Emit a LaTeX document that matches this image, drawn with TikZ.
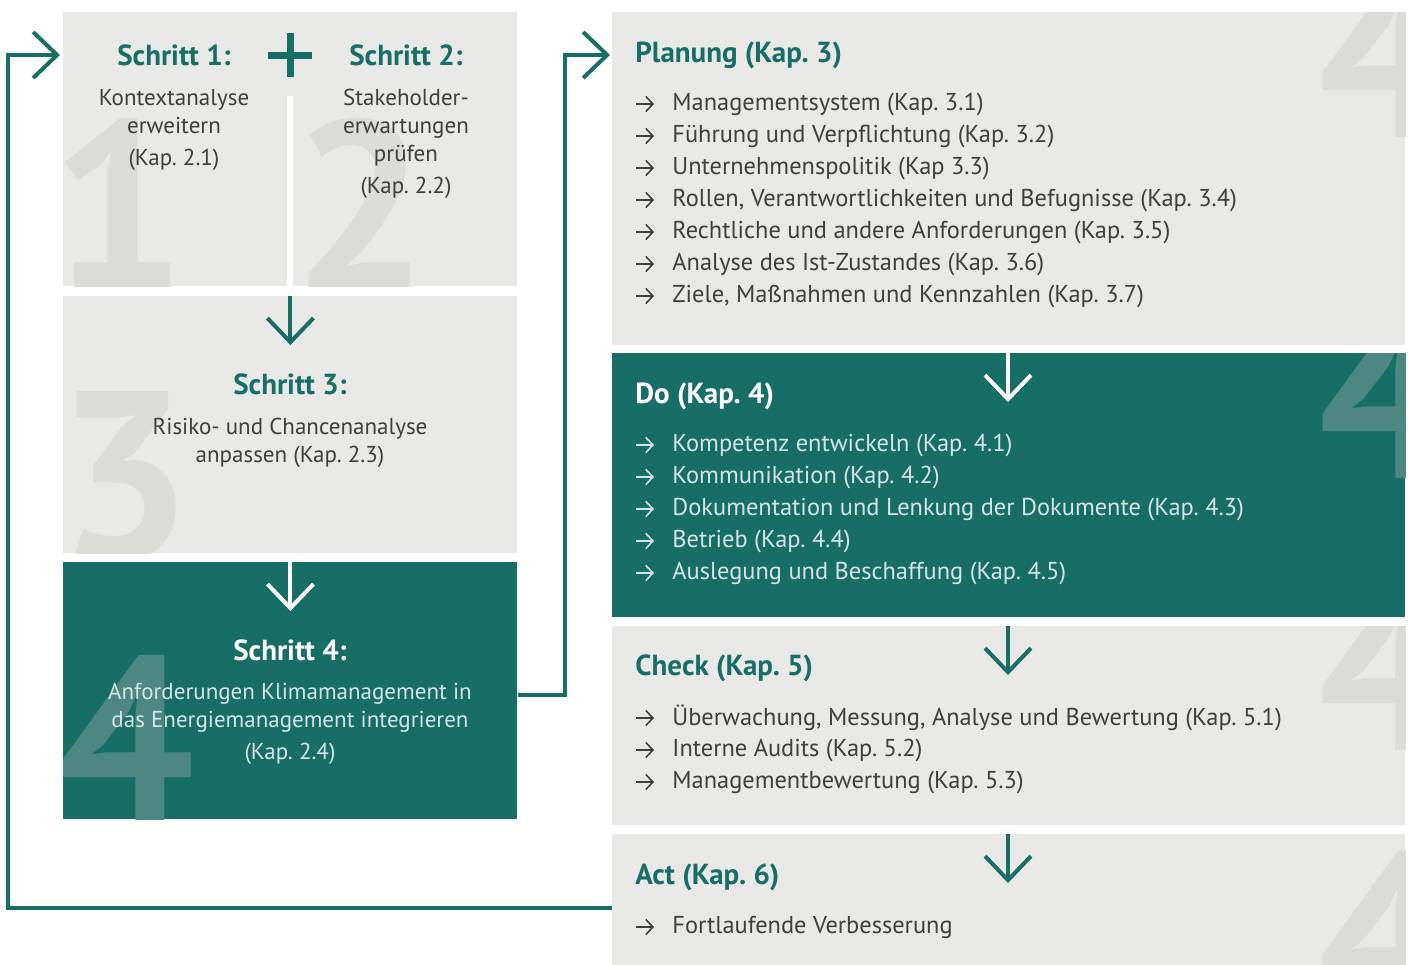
\documentclass[tikz,border=0pt]{standalone}
\usepackage{fontspec}
\setmainfont{PT Sans}
\usetikzlibrary{arrows.meta,calc,positioning}

\definecolor{petrol}{HTML}{176E66}
\definecolor{boxgray}{HTML}{E8E8E6}
\definecolor{wmgray}{HTML}{DBDBD8}
\definecolor{wmteal}{HTML}{4C8781}
\definecolor{bodytext}{HTML}{3E3E3E}
\definecolor{lighttext}{HTML}{D6E5E3}

\begin{document}
\frenchspacing
\begin{tikzpicture}[x=0.5pt,y=-0.5pt,
    panel/.style={anchor=north west, inner sep=0pt, fill=boxgray, minimum width=#1},
    steptitle/.style={font=\fontsize{14.5}{17}\selectfont\bfseries, text=petrol},
    steptext/.style={font=\fontsize{11.5}{14}\selectfont, text=bodytext, align=center},
    ptitle/.style={anchor=west, inner sep=0pt, font=\fontsize{14.5}{17}\selectfont\bfseries, text=petrol},
    item/.style={anchor=west, inner sep=0pt, font=\fontsize{12.2}{14}\selectfont, text=bodytext},
    bullet/.style={-{Straight Barb[length=3.5pt,width=7.5pt]}, line width=0.8pt, bodytext},
    digit/.style={anchor=base west, inner sep=0pt, font=\fontsize{120}{120}\selectfont\bfseries, text=wmgray},
    bigarrow/.style={-{Straight Barb[length=12pt,width=23pt]}, line width=2pt},
    loopline/.style={-{Straight Barb[length=12pt,width=23pt]}, line width=2pt, petrol}]

\useasboundingbox (0,0) rectangle (1410,965);
\fill[white] (0,0) rectangle (1410,965);

% left column
\node[panel=227pt, minimum height=137pt] (s12) at (63,12) {};
\node[panel=227pt, minimum height=128.5pt] (s3) at (63,296) {};
\node[panel=227pt, minimum height=128.5pt, fill=petrol] (s4) at (63,562) {};

% right column
\node[panel=396.5pt, minimum height=166.5pt] (plan) at (612,12) {};
\node[panel=396.5pt, minimum height=132pt, fill=petrol] (do) at (612,353) {};
\node[panel=396.5pt, minimum height=99.5pt] (check) at (612,626) {};
\node[panel=396.5pt, minimum height=65.5pt] (act) at (612,834) {};

% watermark digits
\begin{scope}
  \clip (s12.north west) rectangle (s12.south east);
  \node[digit] (d1) at (50,289) {1};
  \node[digit] (d2) at (292,289) {2};
\end{scope}
\begin{scope}
  \clip (s3.north west) rectangle (s3.south east);
  \node[digit] (d3) at (56,559) {3};
\end{scope}
\begin{scope}
  \clip (s4.north west) rectangle (s4.south east);
  \node[digit, text=wmteal] (d4) at (58,824) {4};
\end{scope}
\foreach \p/\b/\c in {plan/137/wmgray, do/478/wmteal, check/750/wmgray, act/1019/wmgray} {
  \begin{scope}
    \clip (\p.north west) rectangle (\p.south east);
    \node[digit, text=\c] (w\p) at (1318,\b) {4};
  \end{scope}
}

% divider and plus
\draw[white, line width=3pt] (s12.south) -- ++(0,-191);
\draw[petrol, line width=3.5pt] (268,55) -- (312,55) (290,33) -- (290,77);

% steps
\node[steptitle] (t1) at (174,55) {Schritt 1:};
\node[steptitle] (t2) at (406,55) {Schritt 2:};
\node[steptext] (x1) at (174,130) {Kontextanalyse\\erweitern\\[2pt](Kap. 2.1)};
\node[steptext] (x2) at (406,144) {Stakeholder-\\erwartungen\\prüfen\\[2pt](Kap. 2.2)};
\node[steptitle] (t3) at (290,384) {Schritt 3:};
\node[steptext] (x3) at (290,443) {Risiko- und Chancenanalyse\\anpassen (Kap. 2.3)};
\node[steptitle, text=white] (t4) at (290,650) {Schritt 4:};
\node[steptext, text=lighttext] (x4) at (290,724) {Anforderungen Klimamanagement in\\das Energiemanagement integrieren\\[2pt](Kap. 2.4)};

% phases
\node[ptitle] (plant) at (635,55) {Planung (Kap. 3)};
\foreach \txt [count=\i] in {Managementsystem (Kap. 3.1), Führung und Verpflichtung (Kap. 3.2),
    Unternehmenspolitik (Kap 3.3), {Rollen, Verantwortlichkeiten und Befugnisse (Kap. 3.4)},
    Rechtliche und andere Anforderungen (Kap. 3.5), Analyse des Ist-Zustandes (Kap. 3.6),
    {Ziele, Maßnahmen und Kennzahlen (Kap. 3.7)}} {
  \node[item] (pl\i) at (672,{104+32*(\i-1)}) {\txt};
  \draw[bullet] ($(pl\i.west)+(-36,0)$) -- ++(18,0);
}

\node[ptitle, text=white] (dot) at (635,396) {Do (Kap. 4)};
\foreach \txt [count=\i] in {Kompetenz entwickeln (Kap. 4.1), Kommunikation (Kap. 4.2),
    Dokumentation und Lenkung der Dokumente (Kap. 4.3), Betrieb (Kap. 4.4),
    Auslegung und Beschaffung (Kap. 4.5)} {
  \node[item, text=lighttext] (do\i) at (672,{445+32*(\i-1)}) {\txt};
  \draw[bullet, lighttext] ($(do\i.west)+(-36,0)$) -- ++(18,0);
}

\node[ptitle] (checkt) at (635,668) {Check (Kap. 5)};
\foreach \txt [count=\i] in {{Überwachung, Messung, Analyse und Bewertung (Kap. 5.1)},
    Interne Audits (Kap. 5.2), Managementbewertung (Kap. 5.3)} {
  \node[item] (ch\i) at (672,{718+32*(\i-1)}) {\txt};
  \draw[bullet] ($(ch\i.west)+(-36,0)$) -- ++(18,0);
}

\node[ptitle] (actt) at (635,877) {Act (Kap. 6)};
\node[item] (ac1) at (672,927) {Fortlaufende Verbesserung};
\draw[bullet] ($(ac1.west)+(-36,0)$) -- ++(18,0);

% down arrows
\draw[bigarrow, petrol] (s3.north) -- ++(0,49);
\draw[bigarrow, white] (s4.north) -- ++(0,49);
\draw[bigarrow, white] ($(do.north west)+(396,0)$) -- ++(0,49);
\draw[bigarrow, petrol] ($(check.north west)+(396,0)$) -- ++(0,49);
\draw[bigarrow, petrol] ($(act.north west)+(396,0)$) -- ++(0,49);

% feedback lines
\draw[loopline] ($(act.west)+(0,8)$) -| (8,55) -- ($(s12.north west)+(-3,43)$);
\draw[loopline] ($(s4.east)+(0,4)$) -- ++(47,0) |- ($(plan.north west)+(-2,43)$);
\end{tikzpicture}
\end{document}
